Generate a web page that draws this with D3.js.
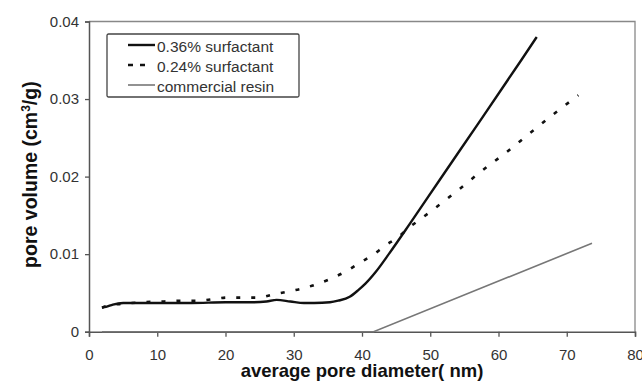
<!DOCTYPE html>
<html>
<head>
<meta charset="utf-8">
<script src="https://cdn.jsdelivr.net/npm/d3@7"></script>
<style>
  body { margin: 0; background: #fff; }
  svg { display: block; font-family: Arial, "Liberation Sans", sans-serif; }
</style>
</head>
<body>
<div id="chart"></div>
<script>
// pore volume vs average pore diameter
const xTicks = [0, 10, 20, 30, 40, 50, 60, 70, 80];
const yTicks = [0, 0.01, 0.02, 0.03, 0.04];

const s36X = [1.9, 2.5, 3.5, 5, 7, 10, 15, 20, 24, 26, 27.5, 29.5, 31.5, 33, 35.3, 36.5, 38.2, 39.5, 40.5, 42, 44, 47, 51.4, 57, 63.4, 65.6];
const s36Y = [0.0031, 0.0032, 0.0035, 0.0037, 0.0037, 0.0037, 0.0037, 0.0038, 0.0038, 0.0039, 0.0041, 0.0039, 0.0037, 0.0037, 0.0038, 0.0040, 0.0045, 0.0054, 0.0062, 0.0077, 0.0101, 0.0139, 0.0196, 0.0268, 0.0351, 0.0380];

const s24X = [1.9, 3, 5, 8, 11, 13.3, 16, 18.2, 20.2, 22.6, 24.8, 27, 29.3, 31.4, 33.6, 35.6, 37.7, 39.7, 41.6, 43.4, 45.3, 47, 48.7, 50.5, 54, 57.5, 61.1, 64.6, 68, 71.7];
const s24Y = [0.0031, 0.0034, 0.0036, 0.0038, 0.0039, 0.0040, 0.0040, 0.0042, 0.0044, 0.0044, 0.0044, 0.0048, 0.0052, 0.0056, 0.0062, 0.0069, 0.0078, 0.0089, 0.0099, 0.0111, 0.0122, 0.0135, 0.0146, 0.0158, 0.0182, 0.0207, 0.0231, 0.0256, 0.0280, 0.0305];

const resinX = [1.9, 41.7, 73.7];
const resinY = [0, 0, 0.0114];

const seriesNames = ["0.36% surfactant", "0.24% surfactant", "commercial resin"];

const width = 642, height = 381;
const margin = { top: 21.5, right: 7, bottom: 49.3, left: 89 };
const w = width - margin.left - margin.right;
const h = height - margin.top - margin.bottom;

const svg = d3.select("#chart").append("svg")
    .attr("width", width)
    .attr("height", height);

const g = svg.append("g")
    .attr("transform", `translate(${margin.left},${margin.top})`);

const x = d3.scaleLinear().domain([0, 80]).range([0, w]);
const y = d3.scaleLinear().domain([0, 0.04]).range([h, 0]);

// frame (top + right)
g.append("path")
    .attr("d", `M0,0H${w}V${h}`)
    .attr("fill", "none")
    .attr("stroke", "#888")
    .attr("stroke-width", 1.3);

const xAxis = g.append("g")
    .attr("transform", `translate(0,${h})`)
    .call(d3.axisBottom(x).tickValues(xTicks).tickSize(5).tickPadding(13).tickFormat(d3.format("d")));

const yAxis = g.append("g")
    .call(d3.axisLeft(y).tickValues(yTicks).tickSize(4).tickPadding(6)
        .tickFormat(d => d === 0 ? "0" : d3.format(".2f")(d)));

[xAxis, yAxis].forEach(a => {
    a.select(".domain").attr("stroke", "#555").attr("stroke-width", 1.5);
    a.selectAll(".tick line").attr("stroke", "#555").attr("stroke-width", 1.3);
    a.selectAll(".tick text")
        .attr("fill", "#333")
        .style("font-size", "15px")
        .style("font-family", "Arial, 'Liberation Sans', sans-serif");
});

const smooth = d3.line()
    .x(d => x(d[0]))
    .y(d => y(d[1]))
    .curve(d3.curveMonotoneX);

const straight = d3.line()
    .x(d => x(d[0]))
    .y(d => y(d[1]));

const zip = (xs, ys) => xs.map((v, i) => [v, ys[i]]);

g.append("path")
    .datum(zip(resinX, resinY))
    .attr("d", straight)
    .attr("fill", "none")
    .attr("stroke", "#777")
    .attr("stroke-width", 1.6);

g.append("path")
    .datum(zip(s24X, s24Y))
    .attr("d", smooth)
    .attr("fill", "none")
    .attr("stroke", "#111")
    .attr("stroke-width", 2.6)
    .attr("stroke-dasharray", "4,11");

g.append("path")
    .datum(zip(s36X, s36Y))
    .attr("d", smooth)
    .attr("fill", "none")
    .attr("stroke", "#111")
    .attr("stroke-width", 2.4);

// legend
const legend = svg.append("g").attr("transform", "translate(107,34)");
legend.append("rect")
    .attr("width", 192)
    .attr("height", 63)
    .attr("fill", "#fff")
    .attr("stroke", "#444")
    .attr("stroke-width", 1.3)
    .attr("rx", 1.5);

const legendStyles = [
    { stroke: "#111", width: 2.4, dash: null },
    { stroke: "#111", width: 2.4, dash: "5,7" },
    { stroke: "#777", width: 1.6, dash: null }
];

seriesNames.forEach((name, i) => {
    const row = legend.append("g").attr("transform", `translate(0,${11 + i * 20})`);
    const st = legendStyles[i];
    row.append("line")
        .attr("x1", 21).attr("x2", i === 1 ? 38 : 48)
        .attr("y1", 0).attr("y2", 0)
        .attr("stroke", st.stroke)
        .attr("stroke-width", st.width)
        .attr("stroke-dasharray", st.dash);
    row.append("text")
        .attr("x", 50)
        .attr("y", 6.5)
        .attr("fill", "#333")
        .style("font-size", "15.5px")
        .text(name);
});

// axis titles
svg.append("text")
    .attr("x", margin.left + w / 2)
    .attr("y", 377)
    .attr("text-anchor", "middle")
    .attr("fill", "#111")
    .style("font-size", "18.5px")
    .style("font-weight", "bold")
    .text("average pore diameter( nm)");

const yTitle = svg.append("text")
    .attr("transform", `translate(37,${margin.top + h / 2 - 2}) rotate(-90)`)
    .attr("text-anchor", "middle")
    .attr("fill", "#111")
    .style("font-size", "19.5px")
    .style("font-weight", "bold");
yTitle.append("tspan").text("pore volume (cm");
yTitle.append("tspan").attr("dy", "-7").style("font-size", "12px").text("3");
yTitle.append("tspan").attr("dy", "7").text("/g)");
</script>
</body>
</html>
